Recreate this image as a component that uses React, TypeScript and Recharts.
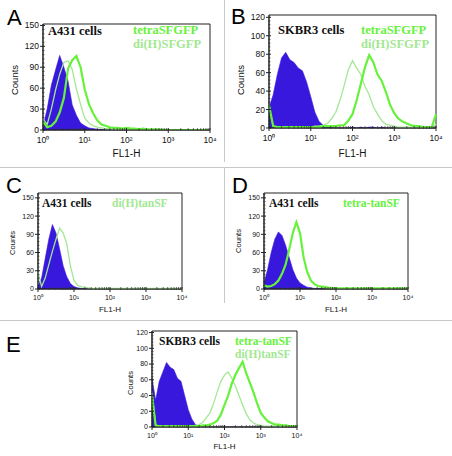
import { ComposedChart, Area, Line, XAxis, YAxis, ReferenceArea } from 'recharts'

// FL1-H bins, in decades (10^0 .. 10^4)
const bins = [
  0, 0.1, 0.2, 0.3, 0.4, 0.5, 0.6, 0.7, 0.8, 0.9, 1, 1.1, 1.2, 1.3, 1.4, 1.5, 1.6, 1.7, 1.8, 1.9, 2,
  2.1, 2.2, 2.3, 2.4, 2.5, 2.6, 2.7, 2.8, 2.9, 3, 3.1, 3.2, 3.3, 3.4, 3.5, 3.6, 3.7, 3.8, 3.9, 4,
]
const xMajor = [0, 1, 2, 3, 4]
const xTickLabels = ['10⁰', '10¹', '10²', '10³', '10⁴']
const xMinor = [0, 1, 2, 3].flatMap((d) => [2, 3, 4, 5, 6, 7, 8, 9].map((k) => d + Math.log10(k)))

const ticks150 = [0, 30, 60, 90, 120, 150]
const ticks120 = [0, 20, 40, 60, 80, 100, 120]

// A: A431 cells
const aBlue = [5, 30, 64, 86, 107, 90, 70, 36, 21, 10, 6, 3, 2, 1, 1, 0, 0, 0, 0, 0, 0, 0, 0, 0, 0, 0, 0, 0, 0, 0, 0, 0, 0, 0, 0, 0, 0, 0, 0, 0, 0]
const aDi = [16, 8, 30, 57, 80, 97, 99, 87, 59, 37, 17, 10, 6, 4, 3, 2, 2, 1, 1, 1, 1, 1, 1, 1, 0, 0, 0, 0, 0, 0, 0, 0, 0, 0, 0, 0, 0, 0, 0, 0, 0]
const aTetra = [12, 4, 6, 12, 25, 46, 88, 100, 106, 90, 58, 37, 24, 14, 8, 6, 4, 3, 3, 2, 3, 2, 2, 1, 2, 1, 1, 1, 1, 0, 0, 0, 0, 0, 0, 0, 0, 0, 0, 0, 0]

// B: SKBR3 cells
const bBlue = [22, 36, 58, 76, 82, 74, 71, 65, 62, 50, 34, 17, 7, 3, 1, 1, 0, 0, 0, 0, 1, 0, 1, 0, 1, 1, 0, 1, 0, 0, 0, 0, 0, 0, 0, 0, 0, 0, 0, 0, 0]
const bDi = [22, 2, 1, 1, 1, 1, 1, 1, 1, 1, 1, 2, 2, 3, 5, 10, 17, 30, 46, 63, 73, 65, 58, 45, 36, 23, 15, 8, 4, 3, 2, 1, 1, 1, 1, 1, 1, 1, 1, 1, 4]
const bTetra = [25, 2, 1, 1, 1, 1, 1, 1, 1, 1, 1, 1, 1, 2, 2, 2, 2, 3, 3, 8, 15, 30, 48, 66, 79, 71, 58, 51, 39, 25, 16, 10, 7, 5, 3, 2, 2, 1, 1, 1, 15]

// C: A431 cells, di(H)tanSF
const cBlue = [4, 18, 50, 82, 106, 92, 66, 38, 20, 9, 4, 2, 1, 1, 0, 0, 0, 0, 0, 0, 0, 0, 0, 0, 0, 0, 0, 0, 0, 0, 0, 0, 0, 0, 0, 0, 0, 0, 0, 0, 0]
const cDi = [28, 4, 18, 40, 62, 82, 100, 92, 74, 38, 14, 6, 4, 3, 2, 1, 1, 1, 1, 1, 1, 1, 1, 1, 1, 1, 1, 1, 1, 1, 1, 1, 1, 1, 1, 1, 1, 1, 1, 1, 1]

// D: A431 cells, tetra-tanSF
const dBlue = [10, 32, 60, 82, 94, 88, 72, 52, 32, 18, 10, 6, 3, 2, 1, 1, 1, 0, 0, 0, 0, 0, 0, 0, 0, 0, 0, 0, 0, 0, 0, 0, 0, 0, 0, 0, 0, 0, 0, 0, 0]
const dTetra = [6, 4, 5, 8, 14, 25, 40, 65, 92, 110, 92, 52, 28, 14, 8, 5, 4, 3, 2, 2, 1, 1, 1, 1, 1, 1, 1, 1, 1, 1, 1, 1, 1, 1, 1, 1, 1, 1, 1, 1, 1]

// E: SKBR3 cells, tanSF pair
const eBlue = [62, 34, 58, 70, 82, 76, 73, 62, 58, 40, 22, 10, 3, 1, 0, 0, 0, 0, 0, 0, 0, 0, 0, 0, 0, 0, 0, 0, 0, 0, 0, 0, 0, 0, 0, 0, 0, 0, 0, 0, 0]
const eDi = [45, 2, 1, 1, 1, 1, 1, 1, 1, 1, 1, 1, 2, 3, 6, 12, 18, 30, 45, 58, 66, 70, 62, 52, 40, 28, 17, 9, 5, 3, 2, 1, 1, 1, 1, 1, 1, 1, 1, 1, 1]
const eTetra = [40, 2, 1, 1, 1, 1, 1, 1, 1, 1, 1, 1, 1, 1, 2, 2, 3, 5, 8, 16, 28, 40, 55, 66, 75, 83, 68, 56, 44, 30, 18, 12, 7, 5, 3, 3, 2, 2, 1, 1, 1]

const BLUE = '#3818dc'
const BRIGHT = '#66f23a'
const LIGHT = '#a2e892'
const SANS = '"Liberation Sans", Arial, sans-serif'
const SERIF = '"Liberation Serif", "Times New Roman", serif'

function XTick({ x, y, payload, fs, dy }: any) {
  const i = xMajor.indexOf(payload.value)
  if (i < 0) {
    return <line x1={x} x2={x} y1={y - 2} y2={y + 1} stroke="#333" strokeWidth={0.7} />
  }
  return (
    <g>
      <line x1={x} x2={x} y1={y - 2} y2={y + 3} stroke="#222" />
      <text x={x} y={y + dy} fontSize={fs} textAnchor="middle" fontFamily={SANS} fill="#111">
        {xTickLabels[i]}
      </text>
    </g>
  )
}

function YTick({ x, y, payload, fs, major }: any) {
  const v = payload.value
  if (!major.includes(v)) {
    return <line x1={x - 1} x2={x + 1.5} y1={y} y2={y} stroke="#333" strokeWidth={0.7} />
  }
  return (
    <g>
      <line x1={x - 3} x2={x + 2} y1={y} y2={y} stroke="#222" />
      <text x={x - 4} y={y} dy="0.35em" fontSize={fs} textAnchor="end" fontFamily={SANS} fill="#111">
        {v}
      </text>
    </g>
  )
}

function Histogram(props: any) {
  const { left, top, width, height, margin, yWidth, xHeight, yMax, yTicks, minorStep, blue, di, tetra, small } = props
  const data = bins.map((x, i) => ({
    x,
    blue: blue[i],
    di: di ? di[i] : null,
    tetra: tetra ? tetra[i] : null,
  }))
  const yMinor: number[] = []
  for (let v = minorStep; v < yMax; v += minorStep) if (!yTicks.includes(v)) yMinor.push(v)
  const fs = small ? 7 : 8.5

  return (
    <div style={{ position: 'absolute', left, top }}>
      <ComposedChart width={width} height={height} data={data} margin={margin}>
        <XAxis
          type="number"
          dataKey="x"
          domain={[0, 4]}
          ticks={[...xMajor, ...xMinor]}
          interval={0}
          tickLine={false}
          tickSize={0}
          tickMargin={0}
          height={xHeight}
          axisLine={{ stroke: '#222' }}
          tick={(p: any) => <XTick {...p} fs={fs} dy={small ? 11 : 13} />}
          label={{
            value: 'FL1-H',
            position: 'insideBottom',
            offset: props.labelOffset,
            fontSize: small ? 8 : 10,
            fontFamily: SANS,
            fill: '#111',
          }}
        />
        <YAxis
          type="number"
          domain={[0, yMax]}
          ticks={[...yTicks, ...yMinor]}
          interval={0}
          allowDataOverflow
          tickLine={false}
          tickSize={0}
          tickMargin={0}
          width={yWidth}
          axisLine={{ stroke: '#222' }}
          tick={(p: any) => <YTick {...p} fs={fs} major={yTicks} />}
        />
        <Area
          type="linear"
          dataKey="blue"
          stroke={BLUE}
          strokeWidth={0.6}
          fill={BLUE}
          fillOpacity={1}
          isAnimationActive={false}
        />
        {di && (
          <Line type="linear" dataKey="di" stroke={LIGHT} strokeWidth={1.3} dot={false} isAnimationActive={false} />
        )}
        {tetra && (
          <Line type="linear" dataKey="tetra" stroke={BRIGHT} strokeWidth={2.2} dot={false} isAnimationActive={false} />
        )}
        <ReferenceArea x1={0} x2={4} y1={0} y2={yMax} fill="none" stroke="#222" strokeWidth={1} ifOverflow="visible" />
      </ComposedChart>
    </div>
  )
}

function Overlay() {
  const counts = (cx: number, cy: number, fs: number) => (
    <text
      transform={`translate(${cx},${cy}) rotate(-90)`}
      textAnchor="middle"
      dominantBaseline="central"
      fontSize={fs}
      fontFamily={SANS}
      fill="#111"
    >
      Counts
    </text>
  )
  const letter = (x: number, y: number, s: string) => (
    <text x={x} y={y} fontSize={22} fontFamily={SANS} fill="#000">
      {s}
    </text>
  )
  const legend = (x: number, y: number, s: string, color: string, fs: number) => (
    <text x={x} y={y} fontSize={fs} fontWeight="bold" fontFamily={SERIF} fill={color}>
      {s}
    </text>
  )
  return (
    <svg
      width={452}
      height={456}
      style={{ position: 'absolute', left: 0, top: 0, pointerEvents: 'none' }}
    >
      <line x1={224.5} x2={224.5} y1={0} y2={162} stroke="#c8c8c8" />
      <line x1={0} x2={452} y1={167.5} y2={167.5} stroke="#c8c8c8" />
      <line x1={224.5} x2={224.5} y1={168} y2={303} stroke="#c8c8c8" />
      <line x1={0} x2={452} y1={320.5} y2={320.5} stroke="#c8c8c8" />

      {letter(7, 25, 'A')}
      {letter(231, 24, 'B')}
      {letter(6, 193, 'C')}
      {letter(232, 193, 'D')}
      {letter(6, 352, 'E')}

      {counts(14, 80, 9.5)}
      {counts(240, 80, 9.5)}
      {counts(12.5, 243, 7.5)}
      {counts(238, 241, 7.5)}
      {counts(130, 383, 7.5)}

      {legend(48, 34.5, 'A431 cells', '#111', 12.5)}
      {legend(133, 34, 'tetraSFGFP', BRIGHT, 12.5)}
      {legend(133, 47.5, 'di(H)SFGFP', LIGHT, 12.5)}

      {legend(278, 34, 'SKBR3 cells', '#111', 12.5)}
      {legend(361, 33.5, 'tetraSFGFP', BRIGHT, 12.5)}
      {legend(361, 47.5, 'di(H)SFGFP', LIGHT, 12.5)}

      {legend(42, 207, 'A431 cells', '#111', 11.5)}
      {legend(112, 207, 'di(H)tanSF', LIGHT, 11.5)}

      {legend(269, 206.5, 'A431 cells', '#111', 11.5)}
      {legend(343, 206.5, 'tetra-tanSF', BRIGHT, 11.5)}

      {legend(159, 345, 'SKBR3 cells', '#111', 11.5)}
      {legend(235, 345, 'tetra-tanSF', BRIGHT, 11.5)}
      {legend(235, 357.5, 'di(H)tanSF', LIGHT, 11.5)}
    </svg>
  )
}

export default function App() {
  return (
    <div style={{ position: 'absolute', left: 0, top: 0, width: 452, height: 456, background: '#fff' }}>
      <Histogram
        left={0} top={0} width={222} height={165}
        margin={{ top: 24, right: 12, bottom: 5, left: 20 }}
        yWidth={23} xHeight={30} labelOffset={3}
        yMax={152} yTicks={ticks150} minorStep={6}
        blue={aBlue} di={aDi} tetra={aTetra}
      />
      <Histogram
        left={226} top={0} width={226} height={165}
        margin={{ top: 15, right: 16, bottom: 7, left: 17 }}
        yWidth={26} xHeight={30} labelOffset={1}
        yMax={122.5} yTicks={ticks120} minorStep={4}
        blue={bBlue} di={bDi} tetra={bTetra}
      />
      <Histogram
        left={0} top={168} width={224} height={150}
        margin={{ top: 25, right: 42, bottom: 3, left: 18 }}
        yWidth={20} xHeight={26} labelOffset={3}
        yMax={158} yTicks={ticks150} minorStep={6} small
        blue={cBlue} di={cDi}
      />
      <Histogram
        left={226} top={168} width={226} height={150}
        margin={{ top: 25, right: 44, bottom: 3, left: 18 }}
        yWidth={20} xHeight={26} labelOffset={3}
        yMax={158} yTicks={ticks150} minorStep={6} small
        blue={dBlue} tetra={dTetra}
      />
      <Histogram
        left={0} top={322} width={452} height={134}
        margin={{ top: 9, right: 155, bottom: 4, left: 132 }}
        yWidth={20} xHeight={25} labelOffset={3}
        yMax={122} yTicks={ticks120} minorStep={4} small
        blue={eBlue} di={eDi} tetra={eTetra}
      />
      <Overlay />
    </div>
  )
}
